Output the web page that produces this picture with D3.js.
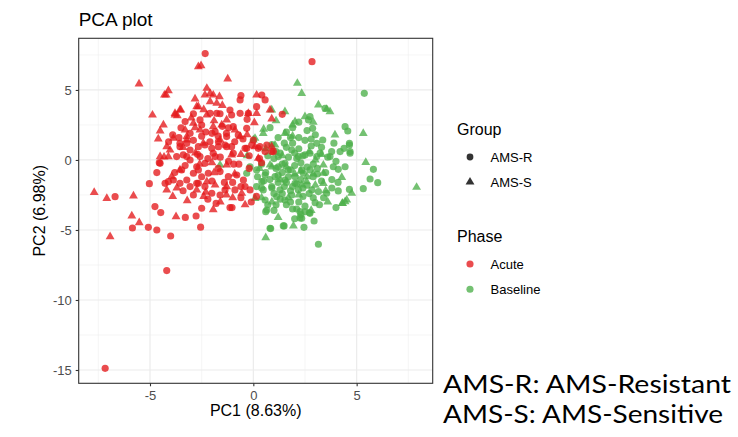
<!DOCTYPE html>
<html><head><meta charset="utf-8">
<script src="https://cdn.jsdelivr.net/npm/d3@7"></script>
<style>body{margin:0;background:#fff;} svg{display:block;}</style>
</head><body>
<svg id="chart" width="738" height="437"></svg>
<script>
// ---- data (PC1, PC2) ----
const acuteR = [ // Acute, AMS-R (circles)
 [-2.33,7.6],[2.84,7.02],[-7.17,-14.88],[-4.19,-7.9],[-6.69,-2.62],[-4.76,-3.33],[-4.48,-3.76],[-5.08,-4.81],
 [-4.67,-5.0],[-5.85,-4.86],[-4.0,-5.43],[-3.29,-4.1],[-2.77,-4.0],[-2.55,-4.8],[-2.5,-3.45],[-1.13,-3.4],[-1.03,-3.4],
 [-5.03,-1.69],[-4.67,-0.9],[-4.55,-0.19],[-4.27,-1.67],[-3.9,1.79],[-3.3,2.74],
 [-1.77,3.33],[-1.13,3.57],[-1.05,3.21],[-0.24,3.33],[0.16,3.81],[-0.32,2.26],[1.4,3.26],[-0.6,4.6],[0.41,4.64],
 [0.57,4.29],[-1.85,2.02],[-1.29,1.67],[-0.73,1.79],[-2.5,2.5],[-1.69,1.31],
 [-2.66,0.95],[-2.34,1.07],[-2.01,0.83],[-1.69,0.95],[-1.37,1.07],[-1.05,0.95],[-1.85,0.24],[-2.34,-0.24],
 [-2.66,-0.71],[-2.18,-0.95],[-1.61,-0.83],[-1.21,-1.19],[-0.8,-1.07],[-0.48,-1.43],[-0.4,-1.9],[-0.89,-2.14],
 [-1.37,-2.14],[-1.61,-2.5],[-2.01,-2.38],[-2.34,-1.9],[-2.66,-1.67],[-0.16,-2.14],[-0.4,0.83],[-0.08,1.07],
 [0.24,0.83],[0.65,1.07],[0.89,0.6],[0.57,0.6],
 [-3.55,0.95],[-3.22,1.19],[-3.06,0.71],[-3.71,0.24],[-3.39,0.36],[-3.06,0.0],[-2.74,-0.48],[-2.9,-0.95],
 [-3.22,-1.43],[-3.06,-1.9],[-2.74,-1.67],[-3.87,-1.43],[-3.55,-1.67],[-4.11,-1.55],
 [-0.64,3.33],[-1.61,3.3],[-2.09,3.33],[-2.58,2.86],[-3.06,1.9],[-3.55,1.19],[-0.97,2.38],[0.0,1.43],
 [-1.29,0.95],[-1.94,0.48],[-2.58,0.24],[-3.22,0.24],[-0.97,0.48],[-0.32,0.83],[0.32,0.95],[0.97,0.6],
 [-0.64,4.29],[-3.47,-0.71],[-4.51,-0.24],[-2.2,-2.8],[-1.8,-3.1],[-0.6,-2.7],[-0.1,-3.0],[0.15,-2.6],
 [-1.4,-1.6],[-0.95,-0.3],[-0.2,0.3],[0.3,0.1],[-2.0,1.9],[-1.5,2.4],[-2.9,3.3],[-3.5,2.3],
 [-2.9,1.4],[-2.5,1.7],[-2.1,1.3],[-1.7,1.7],[-1.3,1.9],[-0.9,1.3],[-0.5,1.5],[-2.7,0.4],[-2.2,0.1],
 [-1.6,0.2],[-1.2,-0.1],[-0.7,-0.3],[-3.3,-0.4],[-2.5,-1.2],[-2.0,-1.5],[-1.7,-0.6],[-1.0,-1.6],[-0.6,-1.9],
 [-3.8,-0.9],[-3.4,-2.2],[-2.9,-2.5],[-1.2,2.3],[-0.3,2.9],[-2.3,2.0],[-3.6,1.6],[-4.1,1.3],[-0.2,-0.6],[0.4,-0.2]
];
const acuteS = [ // Acute, AMS-S (triangles)
 [-5.53,5.43],[-7.7,-2.31],[-7.09,-2.74],[-5.8,-2.57],[-5.88,-4.0],[-5.52,-4.48],[-6.93,-5.48],[-3.74,-4.05],
 [-1.94,-3.55],[-2.53,6.74],[-1.24,5.79],[-4.88,3.21],[-4.3,4.64],[-4.11,4.95],[-4.35,2.5],[-2.82,4.36],
 [-2.25,5.12],[-2.09,4.76],[-1.64,4.52],[-4.19,-2.14],[-3.95,-1.19],[-4.03,0.71],[-4.32,0.21],
 [-4.22,4.64],[-4.51,2.07],[-3.79,3.33],[-3.51,3.57],[-3.68,3.16],[-2.66,6.67],[-3.22,1.67],[-2.82,2.31],
 [-1.94,4.64],[-2.34,4.64],[-2.09,4.17],[0.16,4.64],[0.89,2.93],[-2.66,3.81],[-2.25,3.21],[-1.53,2.5],
 [-0.89,2.14],[0.05,2.67],
 [-1.29,-0.36],[-1.05,0.36],[-2.25,-1.55],[-1.85,-1.79],[-1.29,-1.9],[0.08,0.95],[0.24,0.12],[0.89,0.95],
 [-0.56,-2.38],[-3.55,-0.71],[-2.74,-2.14],
 [-3.55,3.57],[-3.79,3.21],[-2.74,3.81],[-1.77,4.05],[-0.24,3.33],[0.16,3.33],[0.81,3.57],[-3.87,1.55],
 [-3.22,1.43],[-4.19,0.95],[-4.51,0.24],[-4.11,0.24],[-2.42,1.19],[-1.61,1.43],[-0.64,1.67],[-2.58,2.14],
 [-1.94,2.38],[-1.29,2.86],[-2.9,2.62],[-3.3,2.14],
 [-3.9,-2.6],[-3.2,-2.9],[-2.4,-2.6],[-1.6,-3.0],[-1.0,-2.7],[-0.4,-3.2],[-0.9,-1.0],[-2.0,-0.2],[-2.8,0.5],
 [-3.0,3.0],[-2.4,3.6],[-1.9,2.8],[-1.5,3.9],[-3.4,0.9],[-2.6,-0.3],[-1.9,-0.9],[-0.6,0.4],[-0.3,1.8],
 [-4.6,1.5],[-3.7,-2.0],[-2.3,-2.3],[-1.3,-2.5]
];
const baseR = [ // Baseline, AMS-R (circles)
 [5.37,4.76],[4.44,2.38],[4.57,2.07],[4.65,1.19],[4.68,0.6],[5.65,-1.36],[6.02,-1.62],[5.32,-2.05],
 [0.6,-3.69],[0.84,-4.9],[1.49,-4.71],[2.45,-4.81],[2.94,-4.36],[3.15,-6.02],[2.74,-3.81],[2.26,-4.14],[2.26,-3.69],
 [3.47,3.69],[2.74,3.1],[2.67,2.86],[2.87,2.26],[3.36,1.43],[3.07,1.19],[0.81,2.31],
 [5.81,-0.67],[4.65,-2.1],[4.11,-2.21],[3.55,-2.38],[2.99,-3.05],[2.71,-3.76],[4.44,-0.48],[3.87,-0.48],
 [4.68,0.48],[4.65,1.07],[4.39,0.83],[3.79,0.6],[3.71,0.24],[3.23,0.5],[3.07,0.24],[2.74,0.48],[2.5,0.36],
 [2.74,-0.71],[2.42,-0.95],[2.9,-1.19],[4.11,-0.67],[2.83,-2.14],[3.15,-2.26],[2.5,-3.7],[2.34,-4.17],
 [-0.32,-0.95],[0.16,-0.71],[0.57,-1.07],[1.05,-1.19],[0.41,-1.55],[0.89,-1.9],[1.29,-2.14],[0.48,-2.14],
 [0.57,-2.86],[0.65,-3.57],[0.81,-4.88],[1.45,-4.71],[0.16,-1.9],[1.13,-2.62],[1.53,-2.86],[1.86,-2.5],
 [2.18,-2.14],[1.21,0.24],[1.53,-0.24],[1.86,0.71],[2.18,0.24],[2.34,-0.71],[2.02,-1.19],[1.53,-1.43],
 [2.02,-1.67],[1.69,-0.71],[1.21,-0.48],[-0.16,-0.48],
 [1.0,0.1],[1.3,0.5],[1.6,0.9],[1.9,1.2],[2.2,0.8],[2.5,1.4],[2.8,1.0],[1.1,-0.6],[1.4,-0.9],[1.7,-1.2],
 [2.0,-0.4],[2.3,-0.2],[2.6,-0.5],[2.9,-0.3],[1.2,-1.6],[1.5,-1.9],[1.8,-2.2],[2.1,-1.7],[2.4,-2.0],
 [2.7,-2.4],[1.0,-2.4],[1.3,-2.8],[1.6,-3.2],[1.9,-3.5],[2.2,-3.0],[2.5,-3.3],[0.6,-0.9],[0.8,-1.4],
 [0.4,-0.3],[0.7,0.3],[1.9,2.3],[2.2,2.7],[1.6,2.0],[1.2,1.6],[0.9,1.1],[2.6,2.1],[3.0,1.8],[3.3,0.9],
 [3.5,-0.9],[3.8,-1.4],[3.1,-1.0],[3.6,0.2],[4.0,-0.1],[4.2,0.6],[3.4,-2.7],[3.8,-2.0],[4.0,-3.4],
 [3.2,-3.2],[2.0,-4.2],[2.3,-3.9],[1.0,-3.6],[0.7,-3.2],[0.4,-2.0],[0.2,-1.2],[1.5,1.2],[1.8,-0.7],[2.1,0.1],
 [1.1,0.6],[1.4,-0.3],[1.7,0.2],[2.0,0.5],[2.4,0.3],[1.2,-1.1],[1.6,-1.6],[1.9,-1.9],[2.3,-1.4],[2.6,-1.8],
 [2.9,-2.7],[1.4,-2.4],[1.1,-3.2],[1.8,-3.0],[2.1,-3.5],[2.4,-2.6],[0.9,-2.0],[0.5,-1.5],[3.1,-0.6],
 [3.3,-1.5],[2.8,1.5],[2.2,1.6],[1.8,1.6],[3.9,1.2],[4.1,-1.6]
];
const baseS = [ // Baseline, AMS-S (triangles)
 [2.13,5.48],[2.34,4.76],[3.15,3.93],[3.71,3.45],[3.55,3.62],[5.32,1.9],[5.44,-0.17],[7.9,-1.95],
 [0.89,3.57],[1.53,3.45],[0.6,-5.55],[1.94,-4.71],[4.44,-2.98],[4.3,-3.1],
 [2.02,2.74],[0.48,1.9],[1.53,1.9],[0.08,1.55],[3.95,1.79],[3.39,-0.36],[4.28,-1.24],[4.76,-2.38],
 [4.52,-2.86],[4.32,-3.1],[3.39,-1.67],[2.58,-1.55],[3.39,-0.95],[2.34,-1.79],
 [0.08,-2.74],[0.0,1.43],[1.05,1.07],[0.81,-0.36],[-1.61,-0.36],[-0.3,0.3],
 [0.5,2.2],[1.1,2.8],[1.9,2.5],[2.5,3.1],[2.9,2.7],[0.3,-0.6],[0.9,-0.5],[1.4,0.3],[2.0,-1.0],
 [2.6,-1.2],[3.0,-1.8],[1.7,-2.7],[2.2,-2.5],[3.6,-3.0],[0.9,-3.0],[0.4,-2.7],[3.3,0.4],[2.8,-3.6],
 [1.2,-4.1],[3.0,0.0],
 [1.6,-0.5],[2.3,-0.8],[1.3,-1.4],[2.7,0.6],[3.5,-2.2],[0.6,0.8],[1.9,1.7],[2.9,-1.0]
];
const xTicks = [-5, 0, 5];
const yTicks = [-15, -10, -5, 0, 5];
const xMinor = [-7.5, -2.5, 2.5, 7.5];
const yMinor = [-12.5, -7.5, -2.5, 2.5, 7.5];
const groupLabels = ["AMS-R", "AMS-S"];
const phaseLabels = ["Acute", "Baseline"];
const phaseColors = ["#E41A1C", "#4DAF4A"];
const notes = ["AMS-R: AMS-Resistant", "AMS-S: AMS-Sensitive"];

// ---- layout ----
const svg = d3.select("#chart");
const P = {l: 78.7, r: 432.7, t: 38.3, b: 383.3};
const x = d3.scaleLinear().domain([-8.45, 8.68]).range([P.l, P.r]);
const y = d3.scaleLinear().domain([-15.95, 8.69]).range([P.b, P.t]);
const font = "'Liberation Sans', Arial, sans-serif";

// grid
const g = svg.append("g");
g.selectAll(".xm").data(xMinor).join("line").attr("x1", d => x(d)).attr("x2", d => x(d))
  .attr("y1", P.t).attr("y2", P.b).attr("stroke", "#F0F0F0").attr("stroke-width", 0.6);
g.selectAll(".ym").data(yMinor).join("line").attr("y1", d => y(d)).attr("y2", d => y(d))
  .attr("x1", P.l).attr("x2", P.r).attr("stroke", "#F0F0F0").attr("stroke-width", 0.6);
g.selectAll(".xM").data(xTicks).join("line").attr("x1", d => x(d)).attr("x2", d => x(d))
  .attr("y1", P.t).attr("y2", P.b).attr("stroke", "#EBEBEB").attr("stroke-width", 1.2);
g.selectAll(".yM").data(yTicks).join("line").attr("y1", d => y(d)).attr("y2", d => y(d))
  .attr("x1", P.l).attr("x2", P.r).attr("stroke", "#EBEBEB").attr("stroke-width", 1.2);

// points
const circ = d3.symbol().type(d3.symbolCircle).size(40);
const tri = d3.symbol().type(d3.symbolTriangle).size(34);
const layers = [
  {data: baseR, sym: circ, col: phaseColors[1]},
  {data: baseS, sym: tri, col: phaseColors[1]},
  {data: acuteS, sym: tri, col: phaseColors[0]},
  {data: acuteR, sym: circ, col: phaseColors[0]}
];
const pts = svg.append("g");
layers.forEach(L => {
  pts.append("g").selectAll("path").data(L.data).join("path")
    .attr("d", L.sym)
    .attr("transform", d => `translate(${x(d[0])},${y(d[1])})`)
    .attr("fill", L.col).attr("fill-opacity", 0.78);
});

// panel border
svg.append("rect").attr("x", P.l).attr("y", P.t).attr("width", P.r - P.l).attr("height", P.b - P.t)
  .attr("fill", "none").attr("stroke", "#333333").attr("stroke-width", 1.1);

// axes
const xAxis = svg.append("g").attr("transform", `translate(0,${P.b})`)
  .call(d3.axisBottom(x).tickValues(xTicks).tickSize(3).tickPadding(4).tickFormat(d3.format("d")));
const yAxis = svg.append("g").attr("transform", `translate(${P.l},0)`)
  .call(d3.axisLeft(y).tickValues(yTicks).tickSize(3).tickPadding(4).tickFormat(d3.format("d")));
[xAxis, yAxis].forEach(a => {
  a.select(".domain").remove();
  a.selectAll(".tick line").attr("stroke", "#333333").attr("stroke-width", 1.1);
  a.selectAll(".tick text").attr("fill", "#4D4D4D").style("font-family", font).style("font-size", "13px");
});
xAxis.selectAll(".tick text").text(d => d < 0 ? "-" + Math.abs(d) : d);
yAxis.selectAll(".tick text").text(d => d < 0 ? "-" + Math.abs(d) : d);

// titles
svg.append("text").attr("x", P.l).attr("y", 26).text("PCA plot")
  .style("font-family", font).style("font-size", "19px").attr("fill", "#000");
svg.append("text").attr("x", (P.l + P.r) / 2).attr("y", 416).attr("text-anchor", "middle")
  .text("PC1 (8.63%)").style("font-family", font).style("font-size", "16px").attr("fill", "#000");
svg.append("text").attr("transform", `translate(45,${(P.t + P.b) / 2}) rotate(-90)`).attr("text-anchor", "middle")
  .text("PC2 (6.98%)").style("font-family", font).style("font-size", "16px").attr("fill", "#000");

// legend
const leg = svg.append("g");
leg.append("text").attr("x", 457).attr("y", 135).text("Group").style("font-family", font).style("font-size", "16px");
groupLabels.forEach((lab, i) => {
  const cy = 157 + i * 25;
  leg.append("path").attr("d", i === 0 ? d3.symbol().type(d3.symbolCircle).size(36)() : d3.symbol().type(d3.symbolTriangle).size(34)())
    .attr("transform", `translate(470,${cy})`).attr("fill", "#333333");
  leg.append("text").attr("x", 490.5).attr("y", cy + 4.6).text(lab).style("font-family", font).style("font-size", "13px");
});
leg.append("text").attr("x", 457).attr("y", 242).text("Phase").style("font-family", font).style("font-size", "16px");
phaseLabels.forEach((lab, i) => {
  const cy = 264 + i * 25.3;
  leg.append("path").attr("d", d3.symbol().type(d3.symbolCircle).size(40)())
    .attr("transform", `translate(470,${cy})`).attr("fill", phaseColors[i]).attr("fill-opacity", 0.78);
  leg.append("text").attr("x", 490.5).attr("y", cy + 4.6).text(lab).style("font-family", font).style("font-size", "13px");
});

// notes
const nfont = "Lato, 'Open Sans', sans-serif";
const noteW = [288, 280];
notes.forEach((s, i) => svg.append("text").attr("x", 443).attr("y", 392.5 + i * 30.5).text(s)
  .attr("textLength", noteW[i]).attr("lengthAdjust", "spacingAndGlyphs")
  .style("font-family", nfont).style("font-size", "25.5px").attr("fill", "#000"));
</script>
</body></html>
